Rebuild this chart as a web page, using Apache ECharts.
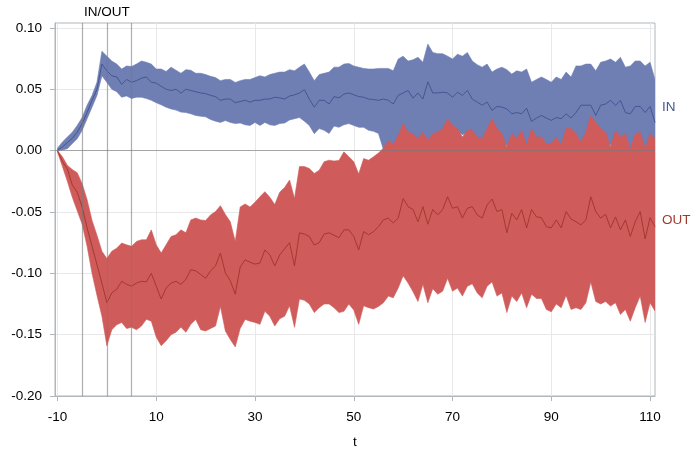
<!DOCTYPE html>
<html><head><meta charset="utf-8">
<script src="https://cdn.jsdelivr.net/npm/echarts@6/dist/echarts.min.js"></script>
<style>html,body{margin:0;padding:0;background:#fff}#c{width:692px;height:454px}</style>
</head><body><div id="c"></div>
<script>
// t runs from -10 to 111 in steps of 1; values below are in thousandths
const T_START = -10;
const UNIT = 0.001;
const xTicks = [-10, 10, 30, 50, 70, 90, 110];
const yTicks = [-0.2, -0.15, -0.1, -0.05, 0, 0.05, 0.1];
const refX = [-5, 0, 5];

const inUpper = [
2, 7, 11, 15, 20.5, 27, 37, 45, 55.7, 81,
77, 73, 70.5, 66.5, 69, 68.5, 70.5, 73, 72, 70.5,
66.5, 66.5, 64.5, 68, 65.5, 63, 66, 65.5, 63, 63,
62, 60.5, 59.5, 57, 58, 58, 55.5, 57, 58, 58,
59.5, 61, 60, 62, 63, 64, 64, 66, 65, 68,
70.5, 64, 57, 62, 63, 64, 68, 68, 70.5, 71,
69, 68, 67, 66.5, 66.5, 67, 67, 67, 65, 74.6,
77, 73, 74, 76, 72, 86.8, 80, 79, 79, 77,
74.6, 78.6, 77, 80, 73, 70, 68, 70.5, 64, 66.5,
68, 66, 62.4, 65, 64, 66.5, 55.7, 58, 60, 58,
55.7, 60, 58, 64, 60, 69, 69, 70.5, 70.5, 65,
72, 73, 74.6, 72, 76, 68, 69, 73, 73, 69,
72, 58];
const inMean = [
0.5, 3, 6.5, 10, 15, 22, 31, 41, 50, 70.5,
65, 61, 60, 54, 58, 55.7, 57, 59, 60, 55.7,
55, 52.4, 50, 49, 50, 46.8, 50, 49, 48, 47,
46.5, 45, 44, 41, 42, 42, 39, 40, 41, 39.5,
41, 41, 42, 42, 43.5, 43, 42, 44.5, 45.4, 47,
49.7, 42, 35.4, 41, 41, 38, 44, 43, 46, 47,
45.5, 44, 43.5, 42, 41.6, 41, 42, 41, 38, 45,
47, 49, 42.7, 47, 42, 56, 47, 47, 47.6, 47,
43.5, 47.6, 45, 49, 42, 39.5, 37, 39.5, 32.7, 36,
35.4, 34, 30, 31, 30, 34.6, 23.8, 26.5, 28.6, 26.5,
24.6, 27, 26, 30, 26.5, 31, 37, 37, 37, 28.6,
37, 38, 41, 36.8, 41, 31, 30, 36, 36, 31,
36, 23];
const inLower = [
0, 0.5, 1.6, 5.7, 9.7, 16.5, 26, 35.4, 45, 61,
55.7, 50, 48, 43.5, 44.6, 42.4, 43.5, 43.5, 42.4, 41,
39, 37.3, 35.4, 34, 33, 31.4, 31, 30, 28.6, 28,
27.5, 25.4, 24, 23, 24.5, 23, 22, 22.5, 21, 20.5,
23, 20.5, 23, 21, 20.5, 22, 22.5, 25, 26, 27,
24, 20.5, 13.8, 18, 16.5, 14, 20, 19, 21, 22,
20.5, 19, 19, 16.5, 15.7, 14, 1, 6, 3, 11,
17, 13, 11.8, 7.7, 12, 6.4, 11.8, 13, 16, 17,
13.5, 16, 13, 14.5, 12, 9, 7, 9.5, 2.7, 6,
5.4, 4.5, 0, 1, 0, 2.3, -6.2, -3.5, -1.4, -3.5,
-5.4, -3, -4, 0, -3.5, 1, 5, 7, 7, -1.4,
7, 8, 4.5, 6.8, 9, 1, -0.4, 6, 6, -0.4,
6, -7];
const outUpper = [
0, -5, -12, -15.5, -18, -27, -40, -57, -69, -82,
-88, -82, -79.5, -75.4, -76.8, -78, -74, -72.7, -72.7, -64.6,
-76.8, -83.5, -76.8, -70, -68.6, -64.6, -67, -56.5, -55, -56.5,
-57, -52.4, -49.7, -44.9, -52, -58, -74, -46, -43.5, -46,
-42, -37.6, -33.5, -38, -44, -34, -30, -24, -39, -13,
-13, -14.6, -18.6, -16, -9, -7.8, -8.5, -8, -1, -5,
-9, -19, -6.5, -7.8, -5, -2, 2, 8, 5, 12.4,
22, 15, 13.8, 9.7, 15, 8.4, 13.8, 15, 18, 26,
20.5, 18, 11, 16.5, 16.5, 11, 9.7, 18, 26, 18,
13.8, 3, 13.8, 9.7, 16.5, 4.3, 18, 11, 11, 5.7,
5.7, 11, 4.3, 18, 18, 13.8, 7, 15, 28.6, 23,
18, 15, 3, 16.5, 11, 13.8, 1.6, 13.8, 15, 1.6,
13.8, 9.7];
const outMean = [
0, -9, -15, -28, -34, -46, -63, -78, -93, -108,
-124, -116, -113, -106.5, -109, -110.5, -108, -106.5, -107, -100,
-110.5, -121, -112, -108, -106.5, -109, -105, -97, -98, -101,
-104, -98, -94, -83.5, -99.7, -106, -117, -95, -89, -91,
-92.5, -91.6, -81, -85, -94, -85, -80, -75, -94, -67,
-68, -70, -77, -75, -68, -67, -69, -71, -64.6, -64.6,
-70, -81, -66, -68.6, -66, -62, -56.5, -55, -59, -55,
-39, -45.7, -48, -58, -45.7, -60, -48, -52.4, -48, -37.6,
-47, -45.7, -55, -47, -45.7, -52.4, -55, -44.3, -39.5, -49.7,
-48, -67, -51, -56.5, -48, -63, -48, -54, -54.6, -62,
-63, -56.5, -63, -49.7, -55.7, -58, -60.5, -56.5, -37.6, -49.7,
-55, -52, -63, -54, -64.6, -56.5, -70, -58, -49.7, -72,
-54.6, -62];
const outLower = [
-1, -13, -25, -38, -49, -60, -78, -100, -118, -135,
-159, -146, -142, -140, -145, -144, -146, -143, -137.5, -139,
-152, -159, -155, -150, -148, -144, -148, -141.6, -137.6, -146,
-147, -145, -143, -127, -147, -154, -160, -145, -137.6, -139,
-140, -141.6, -131, -135, -143, -137, -135, -126.5, -144, -121,
-122, -125, -132, -128, -125, -125, -128, -132, -131, -125,
-130, -141.6, -126.5, -128, -129, -127, -124, -118.6, -120, -112,
-102, -108, -115, -123, -109, -124, -112.5, -117, -114.6, -104,
-114.6, -112, -118.6, -110.5, -108.6, -116, -120, -110.5, -107, -118.6,
-116, -132, -118.6, -123, -116, -128, -117, -120.5, -120.5, -129.5,
-131.4, -125, -128, -118, -129.5, -128, -129.5, -124, -107, -123,
-125, -123, -126.7, -124, -133.5, -129.5, -139, -128, -118.6, -140,
-124, -130.8];

const tVals = inMean.map((_, i) => T_START + i);
const pairs = arr => arr.map((v, i) => [tVals[i], v * UNIT]);
const bandRows = (lo, hi) => lo.map((v, i) => [tVals[i], v * UNIT, hi[i] * UNIT]);

const FONT = 'Liberation Sans, Arial, sans-serif';
const FS = 13.5;
const BLUE_FILL = '#6F7EB3', BLUE_LINE = '#445694';
const RED_FILL = '#D05B5B', RED_LINE = '#A23A2E';
const REF = 'rgba(120,120,120,0.6)';

// one polygon per band, built from all rows through the axis scales
function bandSeries(name, rows, color) {
  return {
    type: 'custom', name, data: rows, silent: true, clip: true,
    encode: {x: 0, y: [1, 2]},
    renderItem(params, api) {
      if (params.dataIndex !== 0) return null;
      const top = rows.map(r => api.coord([r[0], r[2]]));
      const bot = rows.slice().reverse().map(r => api.coord([r[0], r[1]]));
      return {type: 'polygon', shape: {points: top.concat(bot)},
              style: {fill: color, stroke: color, lineWidth: 0.6}};
    }
  };
}

const chart = echarts.init(document.getElementById('c'), null, {renderer: 'canvas'});
chart.setOption({
  animation: false,
  backgroundColor: '#fff',
  textStyle: {fontFamily: FONT},
  grid: {left: 55, right: 37, top: 23, bottom: 55, show: true, borderColor: '#B0B7BB', borderWidth: 1},
  xAxis: {
    type: 'value', min: -10.5, max: 111,
    name: 't', nameLocation: 'middle', nameGap: 39,
    nameTextStyle: {fontSize: FS, color: '#000', fontFamily: FONT},
    axisLine: {show: true, onZero: false, lineStyle: {color: '#B0B7BB'}},
    axisTick: {show: true, length: 5, customValues: xTicks, lineStyle: {color: '#B0B7BB'}},
    axisLabel: {customValues: xTicks, fontSize: FS, color: '#000', margin: 14, fontFamily: FONT},
    splitLine: {show: true, lineStyle: {color: '#E8E8E8'}}
  },
  yAxis: {
    type: 'value', min: -0.2, max: 0.104,
    axisLine: {show: true, onZero: false, lineStyle: {color: '#B0B7BB'}},
    axisTick: {show: true, length: 5, customValues: yTicks, lineStyle: {color: '#B0B7BB'}},
    axisLabel: {customValues: yTicks, fontSize: FS, color: '#000', margin: 13, fontFamily: FONT,
      formatter: v => v.toFixed(2)},
    splitLine: {show: true, lineStyle: {color: '#E8E8E8'}}
  },
  series: [
    bandSeries('IN band', bandRows(inLower, inUpper), BLUE_FILL),
    bandSeries('OUT band', bandRows(outLower, outUpper), RED_FILL),
    {type: 'line', name: 'IN', data: pairs(inMean), symbol: 'none',
      lineStyle: {color: BLUE_LINE, width: 1}, silent: true},
    {type: 'line', name: 'OUT', data: pairs(outMean), symbol: 'none',
      lineStyle: {color: RED_LINE, width: 1}, silent: true,
      markLine: {
        silent: true, symbol: 'none', animation: false,
        lineStyle: {color: REF, width: 1.2, type: 'solid'},
        label: {show: false},
        data: [
          ...refX.map(x => x === 0
            ? {xAxis: x, label: {show: true, position: 'end', formatter: 'IN/OUT', color: '#000', fontSize: FS, fontFamily: FONT, distance: 4}}
            : {xAxis: x}),
          {yAxis: 0}
        ]
      }}
  ],
  graphic: [
    {type: 'text', left: 662, top: 100, style: {text: 'IN', fill: BLUE_LINE, font: FS + 'px ' + FONT}},
    {type: 'text', left: 662, top: 213, style: {text: 'OUT', fill: RED_LINE, font: FS + 'px ' + FONT}}
  ]
});
</script></body></html>
